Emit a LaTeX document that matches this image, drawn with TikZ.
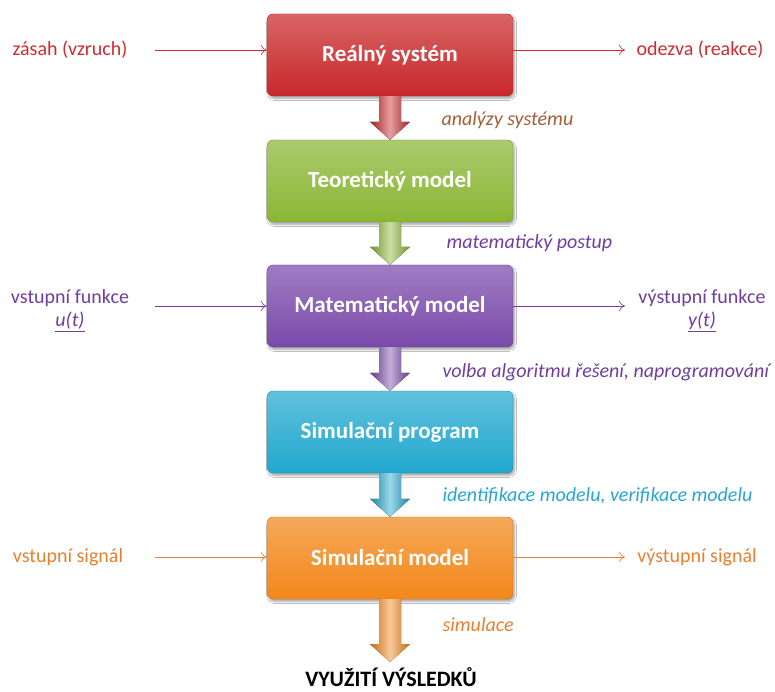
\documentclass[tikz,border=0pt]{standalone}
\usepackage{fontspec}
\setmainfont{Carlito}
\usetikzlibrary{calc,shadows.blur,arrows.meta}
\definecolor{cRed}{RGB}{200,40,42}
\definecolor{cGreen}{RGB}{138,182,52}
\definecolor{cPurple}{RGB}{122,74,170}
\definecolor{cCyan}{RGB}{34,168,206}
\definecolor{cOrange}{RGB}{243,135,26}
\definecolor{tRed}{RGB}{205,45,50}
\definecolor{tBrown}{RGB}{165,95,55}
\definecolor{tPurple}{RGB}{112,62,160}
\definecolor{tCyan}{RGB}{40,165,215}
\definecolor{tOrange}{RGB}{232,128,50}
\tikzset{
  mbox/.style={rounded corners=6pt, minimum width=246pt, minimum height=82pt,
    inner sep=0pt, text=white, font=\fontsize{23}{27}\selectfont\bfseries,
    top color=#1!72!white, bottom color=#1, draw=#1!85!black, line width=0.4pt,
    blur shadow={shadow blur steps=6, shadow xshift=1.5pt, shadow yshift=-2.5pt, shadow opacity=35}},
  side/.style={font=\fontsize{20}{24}\selectfont, text=#1, align=center},
  steplabel/.style={font=\fontsize{20}{24}\selectfont\itshape, text=#1, anchor=west},
  thinarrow/.style={draw=#1, line width=0.6pt, -{To[length=6pt,width=10pt]}},
}
\newcommand\blockarr[3]{%
  \fill[left color=#3!80!black, right color=#3!80!black, middle color=#3!45!white]
    ($(#1.south)+(-11,0)$) -- ($(#2)+(-11,-18)$) -- ($(#2)+(-20,-18)$) -- (#2)
    -- ($(#2)+(20,-18)$) -- ($(#2)+(11,-18)$) -- ($(#1.south)+(11,0)$) -- cycle;}
\begin{document}
\begin{tikzpicture}[x=1pt,y=-1pt]
\useasboundingbox[fill=white] (0,0) rectangle (775,692);
% boxes
\node[mbox=cRed]    (b1) at (390,55)  {Reálný systém};
\node[mbox=cGreen]  (b2) at (390,181) {Teoretický model};
\node[mbox=cPurple] (b3) at (390,306) {Matematický model};
\node[mbox=cCyan]   (b4) at (390,432) {Simulační program};
\node[mbox=cOrange] (b5) at (390,558) {Simulační model};
\node[font=\fontsize{22}{26}\selectfont\bfseries] (res) at (391,677) {VYUŽITÍ VÝSLEDKŮ};
\coordinate (tip) at (390,662);
% block arrows
\blockarr{b1}{b2.north}{cRed}
\blockarr{b2}{b3.north}{cGreen}
\blockarr{b3}{b4.north}{cPurple}
\blockarr{b4}{b5.north}{cCyan}
\blockarr{b5}{tip}{cOrange}
% step labels
\node[steplabel=tBrown]  (l1) at (438,120) {analýzy systému};
\node[steplabel=tPurple] (l2) at (443,243) {matematický postup};
\node[steplabel=tPurple] (l3) at (439,372) {volba algoritmu řešení, naprogramování};
\node[steplabel=tCyan]   (l4) at (439,496) {identifikace modelu, verifikace modelu};
\node[steplabel=tOrange] (l5) at (439,625) {simulace};
% side labels
\node[side=tRed] (in1) at (70,50) {zásah (vzruch)};
\node[side=tRed] (out1) at (700,50) {odezva (reakce)};
\node[side=tPurple] (in3) at (70,298) {vstupní funkce};
\node[side=tPurple] (in3b) at (70,322) {\underline{\itshape u(t)}};
\node[side=tPurple] (out3) at (702,298) {výstupní funkce};
\node[side=tPurple] (out3b) at (702,322) {\underline{\itshape y(t)}};
\node[side=tOrange] (in5) at (68,557) {vstupní signál};
\node[side=tOrange] (out5) at (697,557) {výstupní signál};
\coordinate (s1) at (155,50);  \coordinate (e1) at (625,50);
\coordinate (s3) at (155,306); \coordinate (e3) at (625,306);
\coordinate (s5) at (155,557); \coordinate (e5) at (625,557);
\draw[thinarrow=tRed] (s1) -- (s1 -| b1.west);
\draw[thinarrow=tRed] (b1.east |- e1) -- (e1);
\draw[thinarrow=tPurple] (s3) -- (b3.west);
\draw[thinarrow=tPurple] (b3.east) -- (e3);
\draw[thinarrow=tOrange] (s5) -- (s5 -| b5.west);
\draw[thinarrow=tOrange] (b5.east |- e5) -- (e5);
\end{tikzpicture}
\end{document}
